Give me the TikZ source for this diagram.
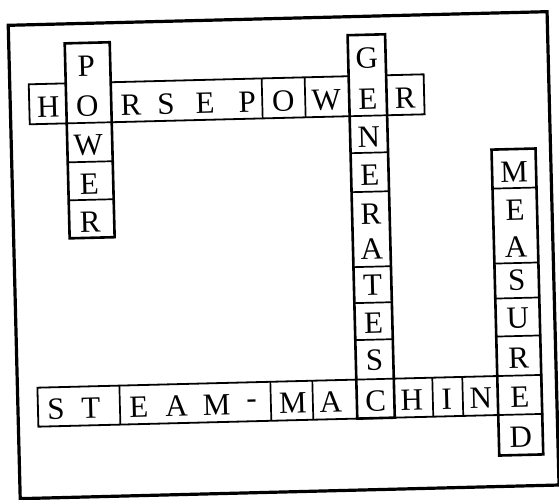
\documentclass[tikz,border=0pt]{standalone}
\usepackage{fontspec}
\setmainfont{Liberation Serif}
\begin{document}
\begin{tikzpicture}[x=1pt,y=1pt,
  frame/.style={line width=3.2pt},
  rowbox/.style={line width=1.8pt},
  colbox/.style={line width=2.6pt, fill=white},
  divline/.style={line width=1.7pt},
  ltr/.style={font=\fontsize{31}{31}\selectfont, inner sep=0pt, anchor=center}]
\useasboundingbox (0,0) rectangle (559,-499);
\begin{scope}[rotate around={1.45:(280,-250)}, transform shape]
% outer frame
\draw[frame] (14,-18.5) rectangle (553,-492);
% HORSEPOWER row
\draw[rowbox] (33,-78) rectangle (428,-118);
\foreach \u in {266,309} \draw[divline] (\u,-78) -- (\u,-118);
% STEAM-MACHINE row
\draw[rowbox] (34,-381.5) rectangle (538,-420.5);
\foreach \u in {116,267,309,429,459} \draw[divline] (\u,-381.5) -- (\u,-420.5);
% POWER column
\draw[colbox] (70,-38) rectangle (115,-233);
\foreach \v in {118,157,195} \draw[divline] (70,-\v) -- (115,-\v);
% GENERATES column
\draw[colbox] (353,-37) rectangle (390.5,-420.5);
\foreach \v in {118,155,194,269,305,342,381.5} \draw[divline] (353,-\v) -- (390.5,-\v);
% MEASURED column
\draw[colbox] (494,-155) rectangle (538,-461);
\foreach \v in {194,269,304,342,381.5,420.5} \draw[divline] (494,-\v) -- (538,-\v);
% letters: HORSEPOWER
\foreach \l/\x/\n in {H/52/ha,O/91/hb,R/134.7/hc,S/169.7/hd,E/208.7/he,P/251/hf,O/287/hg,W/330/hh,E/371.75/hi,R/409/hj}
  \node[ltr] (\n) at (\x,-101) {\l};
% POWER
\foreach \l/\y/\n in {P/61/pa,W/140.5/pc,E/179/pd,R/217/pe}
  \node[ltr] (\n) at (91,-\y) {\l};
% GENERATES
\foreach \l/\y/\n in {G/60.5/ga,N/139.5/gc,E/177.5/gd,R/216/ge,A/251.5/gf,T/287.5/gg,E/325/gh,S/362.5/gi}
  \node[ltr] (\n) at (371.75,-\y) {\l};
% MEASURED
\foreach \l/\y/\n in {M/178/ma,E/216/mb,A/253/mc,S/286/md,U/324/me,R/364/mf,D/443/mh}
  \node[ltr] (\n) at (516,-\y) {\l};
% STEAM-MACHINE
\foreach \l/\x/\n in {S/52/sa,T/87/sb,E/135/sc,A/172.7/sd,M/212.8/se,-/247.8/sf,M/289/sg,A/327/sh,C/371.75/si,H/408/sj,I/443/sk,N/477/sl,E/516/sm}
  \node[ltr] (\n) at (\x,-403) {\l};
\end{scope}
\end{tikzpicture}
\end{document}
